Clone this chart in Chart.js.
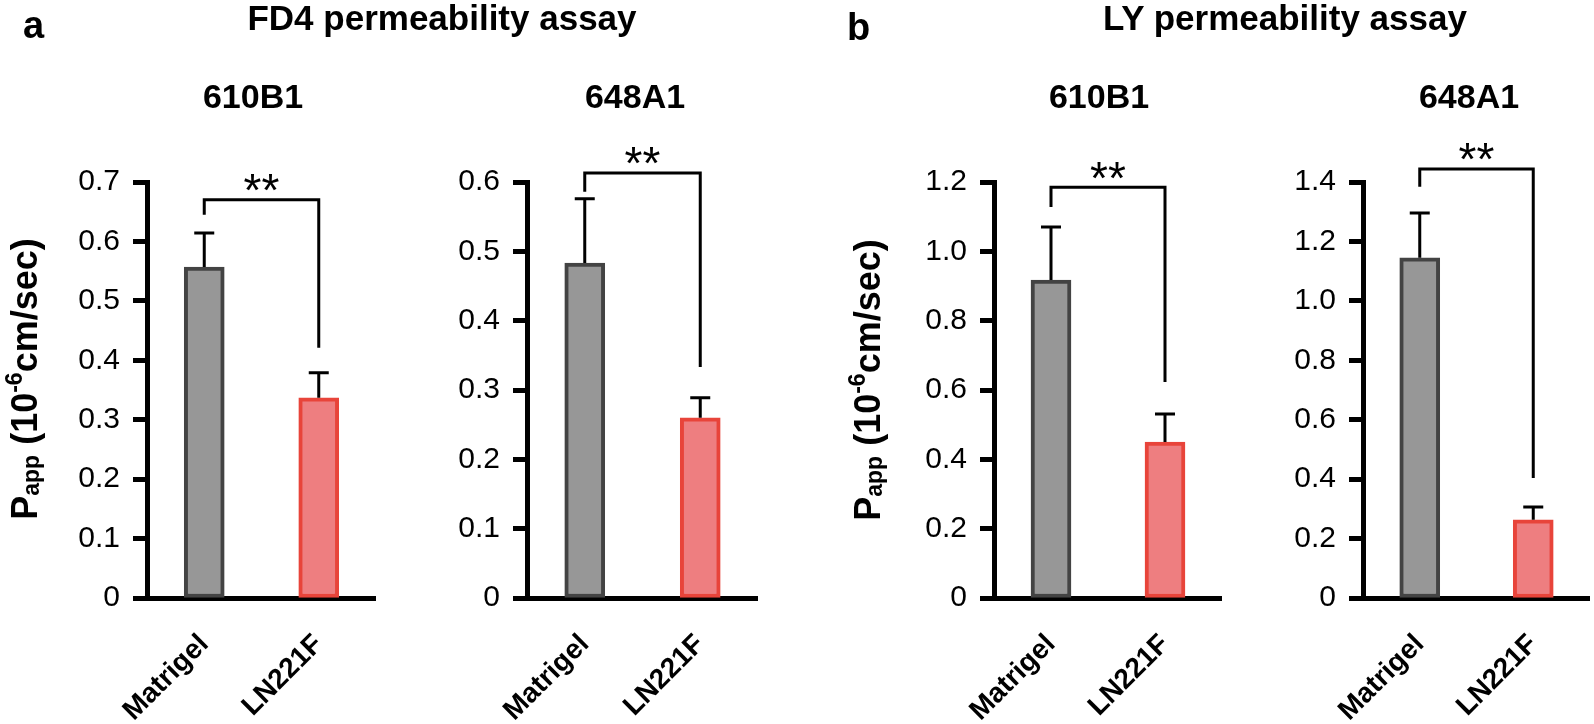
<!DOCTYPE html>
<html>
<head>
<meta charset="utf-8">
<script src="https://cdn.jsdelivr.net/npm/chart.js@4.4.1/dist/chart.umd.min.js"></script>
<style>
    html, body { margin: 0; padding: 0; background: #fff; }
    body { width: 1594px; height: 724px; position: relative; overflow: hidden; font-family: 'Liberation Sans', Arial, sans-serif; color: #000; }
    canvas { position: absolute; top: 0; }
    .txt { position: absolute; white-space: nowrap; font-weight: bold; }
    .ytitle { position: absolute; white-space: nowrap; font-weight: bold; font-size: 36px; line-height: 36px; transform: translate(-50%, -50%) rotate(-90deg); }
    .ytitle sub { font-size: 23px; line-height: 0; vertical-align: -2px; }
    .ytitle sup { font-size: 23px; line-height: 0; vertical-align: 15px; }
</style>
</head>
<body>
<canvas id="fd4-610"></canvas>
<canvas id="fd4-648"></canvas>
<canvas id="ly-610"></canvas>
<canvas id="ly-648"></canvas>
<script>
// --- Data ---
const categories = ['Matrigel', 'LN221F'];

const fd4Mean610 = [0.557, 0.337];
const fd4Err610 = [0.057, 0.042];
const fd4Mean648 = [0.483, 0.26];
const fd4Err648 = [0.093, 0.029];
const lyMean610 = [0.917, 0.45];
const lyErr610 = [0.153, 0.081];
const lyMean648 = [1.145, 0.263];
const lyErr648 = [0.151, 0.043];

const ticksFd4_610 = ['0', '0.1', '0.2', '0.3', '0.4', '0.5', '0.6', '0.7'];
const ticksFd4_648 = ['0', '0.1', '0.2', '0.3', '0.4', '0.5', '0.6'];
const ticksLy_610 = ['0', '0.2', '0.4', '0.6', '0.8', '1.0', '1.2'];
const ticksLy_648 = ['0', '0.2', '0.4', '0.6', '0.8', '1.0', '1.2', '1.4'];

// significance bracket: [top, left leg end, right leg end] in y units
const bracketFd4_610 = [0.67, 0.645, 0.421];
const bracketFd4_648 = [0.613, 0.586, 0.333];
const bracketLy_610 = [1.185, 1.128, 0.623];
const bracketLy_648 = [1.444, 1.384, 0.404];
const sigLabel = '**';

const FONT = "'Liberation Sans', Arial, sans-serif";

// --- Error bars + bracket plugin ---
const sigPlugin = {
    id: 'sig',
    afterDatasetsDraw(chart, args, opts) {
        const { ctx } = chart;
        const x = chart.scales.x, y = chart.scales.y;
        const vals = chart.data.datasets[0].data;
        ctx.save();
        ctx.strokeStyle = '#000';
        ctx.lineWidth = 3;
        vals.forEach((v, i) => {
            const cx = x.getPixelForValue(i);
            const yb = y.getPixelForValue(v);
            const yt = y.getPixelForValue(v + opts.errors[i]);
            ctx.beginPath();
            ctx.moveTo(cx, yb);
            ctx.lineTo(cx, yt);
            ctx.moveTo(cx - 10, yt);
            ctx.lineTo(cx + 10, yt);
            ctx.stroke();
        });
        const [top, lb, rb] = opts.bracket;
        const x1 = x.getPixelForValue(0), x2 = x.getPixelForValue(1);
        const yTop = y.getPixelForValue(top);
        ctx.beginPath();
        ctx.moveTo(x1, y.getPixelForValue(lb));
        ctx.lineTo(x1, yTop);
        ctx.lineTo(x2, yTop);
        ctx.lineTo(x2, y.getPixelForValue(rb));
        ctx.stroke();
        ctx.font = '46px ' + FONT;
        ctx.textAlign = 'center';
        ctx.textBaseline = 'alphabetic';
        ctx.fillStyle = '#000';
        const m = ctx.measureText(sigLabel);
        const mid = yTop - 17;
        ctx.fillText(sigLabel, (x1 + x2) / 2, mid + (m.actualBoundingBoxAscent - m.actualBoundingBoxDescent) / 2);
        ctx.restore();
    }
};

const makePanel = (id, axisX, xEnd, means, errs, tickLabels, bracket) => {
    const yAxisW = 140;
    const canvas = document.getElementById(id);
    canvas.width = xEnd - axisX + yAxisW;
    canvas.height = 724;
    canvas.style.left = (axisX - yAxisW) + 'px';
    const step = parseFloat(tickLabels[1]);
    const max = parseFloat(tickLabels[tickLabels.length - 1]);
    new Chart(canvas, {
        type: 'bar',
        data: {
            labels: categories,
            datasets: [{
                data: means,
                backgroundColor: ['#979797', '#ee7e80'],
                borderColor: ['#434343', '#e8443a'],
                borderWidth: 4,
                borderSkipped: false,
                barThickness: 40
            }]
        },
        options: {
            responsive: false,
            animation: false,
            events: [],
            layout: { padding: { top: 182, left: 0, right: 0, bottom: 0 } },
            plugins: {
                legend: { display: false },
                tooltip: { enabled: false },
                sig: { errors: errs, bracket }
            },
            scales: {
                x: {
                    offset: true,
                    grid: { display: false },
                    border: { display: true, width: 5, color: '#000' },
                    ticks: {
                        color: '#000',
                        font: { family: FONT, size: 28, weight: 'bold' },
                        maxRotation: 45,
                        minRotation: 45,
                        autoSkip: false,
                        padding: 22
                    },
                    afterFit: (s) => { s.height = 126; }
                },
                y: {
                    min: 0,
                    max,
                    ticks: {
                        stepSize: step,
                        color: '#000',
                        font: { family: FONT, size: 30 },
                        padding: 13,
                        callback: (v) => tickLabels[Math.round(v / step)]
                    },
                    grid: { display: true, drawOnChartArea: false, drawTicks: true, tickLength: 14, tickWidth: 5, tickColor: '#000' },
                    border: { display: true, width: 5, color: '#000' },
                    afterFit: (s) => { s.width = yAxisW; }
                }
            }
        },
        plugins: [sigPlugin]
    });
};

makePanel('fd4-610', 147, 376, fd4Mean610, fd4Err610, ticksFd4_610, bracketFd4_610);
makePanel('fd4-648', 527, 758, fd4Mean648, fd4Err648, ticksFd4_648, bracketFd4_648);
makePanel('ly-610', 994, 1222, lyMean610, lyErr610, ticksLy_610, bracketLy_610);
makePanel('ly-648', 1363, 1590, lyMean648, lyErr648, ticksLy_648, bracketLy_648);

// --- Text ---
const addText = (text, x, baseline, size, align) => {
    const el = document.createElement('div');
    el.className = 'txt';
    el.textContent = text;
    el.style.fontSize = size + 'px';
    el.style.lineHeight = size + 'px';
    el.style.top = (baseline - 0.8465 * size) + 'px';
    el.style.left = x + 'px';
    if (align === 'center') el.style.transform = 'translateX(-50%)';
    document.body.appendChild(el);
};
addText('a', 23, 38, 38, 'left');
addText('b', 847, 40, 38, 'left');
addText('FD4 permeability assay', 442, 30, 35, 'center');
addText('LY permeability assay', 1285, 30, 35, 'center');
addText('610B1', 253, 108, 34, 'center');
addText('648A1', 635, 108, 34, 'center');
addText('610B1', 1099, 108, 34, 'center');
addText('648A1', 1469, 108, 34, 'center');

const addYTitle = (cx, cy) => {
    const el = document.createElement('div');
    el.className = 'ytitle';
    el.innerHTML = 'P<sub>app</sub> (10<sup>-6</sup>cm/sec)';
    el.style.left = cx + 'px';
    el.style.top = cy + 'px';
    document.body.appendChild(el);
};
addYTitle(25, 379);
addYTitle(868, 380);
</script>
</body>
</html>
